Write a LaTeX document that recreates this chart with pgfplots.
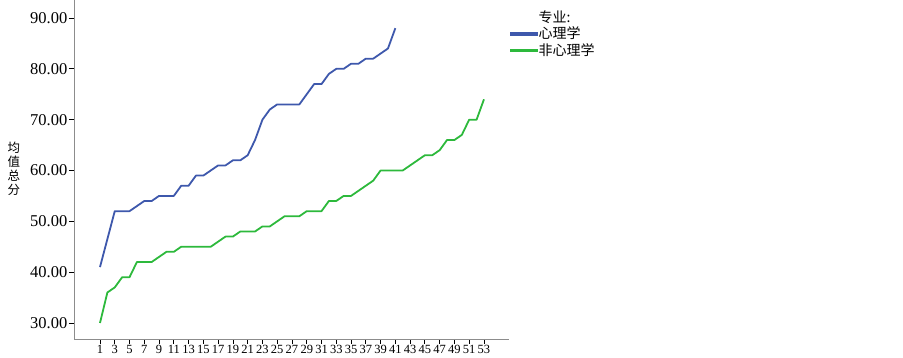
\documentclass[border=0pt]{standalone}
\usepackage{pgfplots}
\pgfplotsset{compat=1.18}
\usepackage{pgfplotstable}
\usepackage{fontspec}
\setmainfont{Liberation Serif}
\newfontfamily\cjk{Noto Sans CJK SC}
\definecolor{sblue}{RGB}{62,88,172}
\definecolor{sgreen}{RGB}{45,185,60}
\definecolor{axgray}{RGB}{140,140,140}

\pgfplotstableread{
x y
1 41
2 46.5
3 52
4 52
5 52
6 53
7 54
8 54
9 55
10 55
11 55
12 57
13 57
14 59
15 59
16 60
17 61
18 61
19 62
20 62
21 63
22 66
23 70
24 72
25 73
26 73
27 73
28 73
29 75
30 77
31 77
32 79
33 80
34 80
35 81
36 81
37 82
38 82
39 83
40 84
41 88
}\psych

\pgfplotstableread{
x y
1 30
2 36
3 37
4 39
5 39
6 42
7 42
8 42
9 43
10 44
11 44
12 45
13 45
14 45
15 45
16 45
17 46
18 47
19 47
20 48
21 48
22 48
23 49
24 49
25 50
26 51
27 51
28 51
29 52
30 52
31 52
32 54
33 54
34 55
35 55
36 56
37 57
38 58
39 60
40 60
41 60
42 60
43 61
44 62
45 63
46 63
47 64
48 66
49 66
50 67
51 70
52 70
53 74
}\nonpsych

\begin{document}
\begin{tikzpicture}
\begin{axis}[
  scale only axis, width=435pt, height=339pt,
  xmin=-2.52, xmax=56.39, ymin=26.85, ymax=93.54,
  axis x line=bottom, axis y line=left,
  axis line style={-, axgray, line width=0.8pt},
  xtick={1,3,...,53}, ytick={30,40,...,90},
  tick align=outside, major tick length=5pt,
  tick style={black, line width=0.8pt},
  /pgf/number format/assume math mode=true,
  yticklabel style={font=\fontsize{16.5}{16.5}\selectfont, inner sep=1.5pt,
    /pgf/number format/fixed, /pgf/number format/fixed zerofill,
    /pgf/number format/precision=2},
  xticklabel style={font=\fontsize{12.5}{12.5}\selectfont, inner sep=1pt},
  ylabel={均\\值\\总\\分},
  ylabel style={font=\cjk\fontsize{12.5}{14}\selectfont, align=center, rotate=-90,
    at={(rel axis cs:0,0.5)}, anchor=center, xshift=-60pt, yshift=1pt},
  legend style={at={(rel axis cs:1,1)}, anchor=north west, xshift=1pt, yshift=-9.5pt,
    draw=none, fill=none, font=\cjk\fontsize{14}{15}\selectfont,
    inner sep=0pt, row sep=1pt, nodes={inner sep=1pt}},
  legend cell align=left,
  clip=false,
]
\addlegendimage{empty legend}
\addlegendentry{专业:}
\addlegendimage{legend image code/.code={\fill[sblue] (0pt,-1.2pt) rectangle (27pt,1.2pt);}}
\addlegendentry{心理学}
\addlegendimage{legend image code/.code={\fill[sgreen] (0pt,-1.2pt) rectangle (27pt,1.2pt);}}
\addlegendentry{非心理学}
\addplot[sblue, no markers, line width=1.8pt, line join=round, forget plot] table[x=x, y=y] {\psych};
\addplot[sgreen, no markers, line width=1.8pt, line join=round, forget plot] table[x=x, y=y] {\nonpsych};
\end{axis}
\pgfresetboundingbox
\path[use as bounding box] ([shift={(-74pt,-19pt)}]current axis.south west) rectangle ++(903pt,358pt);
\end{tikzpicture}
\end{document}
